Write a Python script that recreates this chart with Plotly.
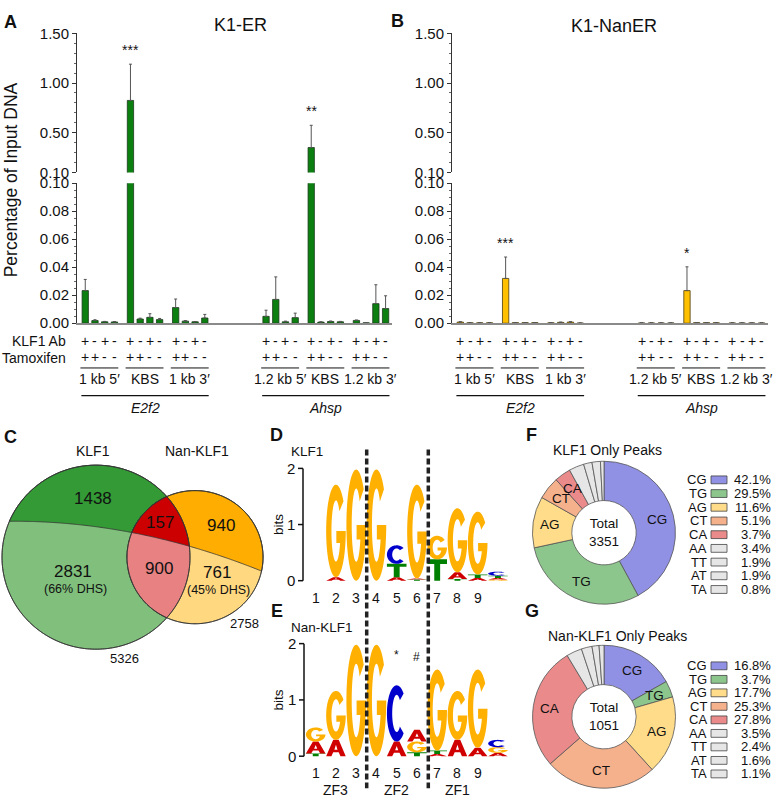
import numpy as np
import plotly.graph_objects as go

W, H = 777, 806
FONT = "Liberation Sans, Arial, Helvetica, sans-serif"

# ---------------- data ----------------
GENES = ["E2f2", "Ahsp"]
REGIONS = [["1 kb 5′", "KBS", "1 kb 3′"], ["1.2 kb 5′", "KBS", "1.2 kb 3′"]]
KLF1_AB = ["+", "-", "+", "-"]
TAMOXIFEN = ["+", "+", "-", "-"]

K1ER_MEAN = [0.0233, 0.0019, 0.0010, 0.0009,
             0.825, 0.0030, 0.0042, 0.0026,
             0.0112, 0.0015, 0.0010, 0.0037,
             0.0049, 0.0170, 0.0010, 0.0040,
             0.351, 0.0008, 0.0012, 0.0010,
             0.0020, 0.0003, 0.0140, 0.0105]
K1ER_ERR = [0.0080, 0.0006, 0.0003, 0.0003,
            0.365, 0.0006, 0.0026, 0.0008,
            0.0061, 0.0004, 0.0002, 0.0026,
            0.0044, 0.0161, 0.0005, 0.0032,
            0.224, 0.0002, 0.0004, 0.0003,
            0.0003, 0.0000, 0.0135, 0.0091]
K1ER_SIG = ["", "", "", "", "***", "", "", "", "", "", "", "",
            "", "", "", "", "**", "", "", "", "", "", "", ""]

K1NANER_MEAN = [0.0008, 0.0003, 0.0003, 0.0003,
                0.0320, 0.0004, 0.0004, 0.0004,
                0.0003, 0.0006, 0.0008, 0.0001,
                0.0002, 0.0002, 0.0002, 0.0002,
                0.0233, 0.0004, 0.0004, 0.0003,
                0.0002, 0.0002, 0.0002, 0.0002]
K1NANER_ERR = [0.0003, 0.0001, 0.0001, 0.0001,
               0.0153, 0.0001, 0.0001, 0.0001,
               0.0001, 0.0002, 0.0003, 0.0001,
               0.0001, 0.0001, 0.0001, 0.0001,
               0.0170, 0.0001, 0.0001, 0.0001,
               0.0001, 0.0001, 0.0001, 0.0001]
K1NANER_SIG = ["", "", "", "", "***", "", "", "", "", "", "", "",
               "", "", "", "", "*", "", "", "", "", "", "", ""]

VENN_NAMES = ["KLF1", "Nan-KLF1"]
VENN_TOTALS = [5326, 2758]
VENN_ONLY_TOP = [1438, 940]
VENN_ONLY_DHS = [2831, 761]
VENN_BOTH = [157, 900]
VENN_DHS_PCT = ["(66% DHS)", "(45% DHS)"]

LOGO_KLF1 = [[], [("A", 0.06), ("G", 1.65)], [("G", 1.98)], [("G", 1.98)],
             [("A", 0.06), ("T", 0.24), ("C", 0.33)],
             [("T", 0.02), ("A", 0.02), ("G", 1.67)],
             [("T", 0.38), ("G", 0.42)],
             [("T", 0.03), ("A", 0.12), ("G", 1.14)],
             [("A", 0.05), ("T", 0.06), ("G", 1.12)],
             [("G", 0.02), ("A", 0.03), ("T", 0.04), ("C", 0.07)]]
LOGO_NAN = [[("T", 0.05), ("A", 0.21), ("G", 0.25)],
            [("A", 0.29), ("G", 0.87)],
            [("G", 1.98)], [("G", 1.98)],
            [("A", 0.26), ("C", 1.00)],
            [("T", 0.07), ("G", 0.19), ("A", 0.21)],
            [("A", 0.04), ("T", 0.06), ("G", 1.44)],
            [("A", 0.29), ("G", 0.87)],
            [("A", 0.15), ("G", 1.39)],
            [("A", 0.06), ("G", 0.10), ("C", 0.13)]]
LOGO_POS_LABELS = ["1", "2", "3", "4", "5", "6", "7", "8", "9"]
ZF_LABELS = ["ZF3", "ZF2", "ZF1"]

PIE_LABELS = ["CG", "TG", "AG", "CT", "CA", "AA", "TT", "AT", "TA"]
PIE_COLORS = ["#9090e4", "#8cc68c", "#ffdc8a", "#f5b08c", "#ea8a8a",
              "#e6e6e6", "#e6e6e6", "#e6e6e6", "#e6e6e6"]
KLF1_ONLY = [42.1, 29.5, 11.6, 5.1, 3.7, 3.4, 1.9, 1.9, 0.8]
NAN_ONLY = [16.8, 3.7, 17.7, 25.3, 27.8, 3.5, 2.4, 1.6, 1.1]
PIE_TOTALS = [3351, 1051]

# ---------------- helpers ----------------
shapes, anns = [], []


def text(x, y, s, size=14, xa="center", ya="middle", angle=0, xref="paper", color="#111"):
    xx = x / W if xref == "paper" else x
    anns.append(dict(x=xx, y=1 - y / H, xref=xref, yref="paper", text=s, showarrow=False,
                     xanchor=xa, yanchor=ya, textangle=angle,
                     font=dict(family=FONT, size=size, color=color)))


def seg(x0, y0, x1, y1, color="#111", width=1.0, dash=None, xref="paper"):
    if xref == "paper":
        x0, x1 = x0 / W, x1 / W
    ln = dict(color=color, width=width)
    if dash:
        ln["dash"] = dash
    shapes.append(dict(type="line", xref=xref, yref="paper", x0=x0, x1=x1,
                       y0=1 - y0 / H, y1=1 - y1 / H, line=ln))


def path_str(polys):
    parts = []
    for pts in polys:
        parts.append("M " + " L ".join(f"{x / W:.5f},{1 - y / H:.5f}" for x, y in pts) + " Z")
    return " ".join(parts)


def poly_shape(polys, fill, lc="#333", lw=0.8):
    shapes.append(dict(type="path", xref="paper", yref="paper", path=path_str(polys),
                       fillcolor=fill, line=dict(color=lc, width=lw)))


# ---------------- panels A / B : bar charts with broken axis ----------------
GSTEP = 4.65
BAR_W = 0.65


def bar_x(i):
    gene, reg, b = i // 12, (i % 12) // 4, i % 4
    return (gene * 4 + reg) * GSTEP + b


XRANGE = [-0.85, 31.56]
LOW_DOM = [1 - 321 / H, 1 - 178 / H]
UP_DOM = [1 - 167 / H, 1 - 24.9 / H]

fig = go.Figure()

panels = [
    ("x", "y", "y3", K1ER_MEAN, K1ER_ERR, K1ER_SIG, "#0b7f0f", "#1c3a1c"),
    ("x2", "y2", "y4", K1NANER_MEAN, K1NANER_ERR, K1NANER_SIG, "#ffc000", "#4a3c10"),
]
for xa, yl, yu, mean, err, sig, col, edge in panels:
    xs = [bar_x(i) for i in range(len(mean))]
    eb = dict(type="data", array=err, arrayminus=[0] * len(err), symmetric=False,
              color="#555", thickness=1, width=1.5)
    fig.add_trace(go.Bar(x=xs, y=mean, xaxis=xa, yaxis=yl, width=BAR_W,
                         marker=dict(color=col, line=dict(color=edge, width=0.8)),
                         error_y=eb, hoverinfo="skip", showlegend=False))
    up_vals = [m if m > 0.1 else None for m in mean]
    up_err = [e if m > 0.1 else 0 for m, e in zip(mean, err)]
    fig.add_trace(go.Bar(x=xs, y=up_vals, xaxis=xa, yaxis=yu, width=BAR_W,
                         marker=dict(color=col, line=dict(color=edge, width=0.8)),
                         error_y=dict(eb, array=up_err), hoverinfo="skip", showlegend=False))
    for i, s in enumerate(sig):
        if s:
            top = mean[i] + err[i]
            anns.append(dict(x=xs[i], y=top, xref=xa, yref=yu if top > 0.1 else yl, text=s,
                             showarrow=False, xanchor="center", yanchor="bottom", yshift=4,
                             font=dict(family=FONT, size=14, color="#111")))
    for i in range(len(mean)):
        b = i % 4
        text(xs[i], 339, KLF1_AB[b], 14, xref=xa)
        text(xs[i], 356, TAMOXIFEN[b], 14, xref=xa)
    for gi in range(2):
        for ri in range(3):
            g = gi * 4 + ri
            seg(g * GSTEP - 0.5, 366.7, g * GSTEP + 3.4, 366.7, width=1, xref=xa)
            text(g * GSTEP + 1.45, 378, REGIONS[gi][ri], 14, xref=xa)
        g0, g2 = gi * 4, gi * 4 + 2
        seg(g0 * GSTEP - 0.4, 395, g2 * GSTEP + 3.4, 395, width=1.3, xref=xa)
        text((g0 * GSTEP - 0.4 + g2 * GSTEP + 3.4) / 2, 408, f"<i>{GENES[gi]}</i>", 14, xref=xa)


def yaxis_cfg(dom, rng, vals, minor, anchor):
    return dict(domain=dom, range=rng, anchor=anchor, tickmode="array", tickvals=vals,
                ticktext=[f"{v:.2f}" for v in vals], ticks="outside", ticklen=4, tickwidth=1,
                tickcolor="#333", showline=True, linecolor="#333", linewidth=1,
                showgrid=False, zeroline=False, fixedrange=True,
                tickfont=dict(family=FONT, size=15, color="#111"),
                minor=dict(tickmode="linear", tick0=0, dtick=minor, ticks="outside",
                           ticklen=2, tickcolor="#666", showgrid=False))


LOW_TICKS = [0, 0.02, 0.04, 0.06, 0.08, 0.10]
UP_TICKS = [0.10, 0.50, 1.00, 1.50]
xcfg = dict(range=XRANGE, showline=True, linecolor="#8a8a8a", linewidth=2, showticklabels=False,
            ticks="", showgrid=False, zeroline=False, fixedrange=True)
fig.update_layout(
    xaxis=dict(xcfg, domain=[77 / W, 392 / W], anchor="y"),
    xaxis2=dict(xcfg, domain=[452 / W, 768 / W], anchor="y2"),
    yaxis=yaxis_cfg(LOW_DOM, [0, 0.1], LOW_TICKS, 0.005, "x"),
    yaxis2=yaxis_cfg(LOW_DOM, [0, 0.1], LOW_TICKS, 0.005, "x2"),
    yaxis3=yaxis_cfg(UP_DOM, [0.1, 1.5], UP_TICKS, 0.1, "x"),
    yaxis4=yaxis_cfg(UP_DOM, [0.1, 1.5], UP_TICKS, 0.1, "x2"),
)

text(10, 13, "<b>A</b>", 18)
text(240, 16, "K1-ER", 18)
text(397, 12, "<b>B</b>", 18)
text(614, 17, "K1-NanER", 18)
text(11, 175, "Percentage of Input DNA", 17.5, angle=-90)
text(68, 339, "KLF1 Ab", 14, xa="right")
text(68, 356.5, "Tamoxifen", 14, xa="right")

# ---------------- panel C : Venn ----------------


def circle_pts(cx, cy, r, n=360):
    t = np.linspace(0, 2 * np.pi, n, endpoint=False)
    return np.column_stack([cx + r * np.cos(t), cy + r * np.sin(t)])


def poly_area(p):
    x, y = p[:, 0], p[:, 1]
    return 0.5 * np.sum(x * np.roll(y, -1) - np.roll(x, -1) * y)


def clip_convex(subject, clipper):
    sgn = 1.0 if poly_area(clipper) > 0 else -1.0
    out = [tuple(p) for p in subject]
    n = len(clipper)
    for i in range(n):
        ax, ay = clipper[i]
        bx, by = clipper[(i + 1) % n]
        ex, ey = bx - ax, by - ay
        inp, out = out, []
        if not inp:
            break
        s = inp[-1]
        ds = sgn * (ex * (s[1] - ay) - ey * (s[0] - ax))
        for e in inp:
            de = sgn * (ex * (e[1] - ay) - ey * (e[0] - ax))
            if de >= 0:
                if ds < 0:
                    t = ds / (ds - de)
                    out.append((s[0] + t * (e[0] - s[0]), s[1] + t * (e[1] - s[1])))
                out.append(e)
            elif ds >= 0:
                t = ds / (ds - de)
                out.append((s[0] + t * (e[0] - s[0]), s[1] + t * (e[1] - s[1])))
            s, ds = e, de
    return np.array(out)


green = circle_pts(96, 560, 94)
yellow = circle_pts(195, 560, 68)
div = np.polyfit([10, 132, 190, 262], [523, 536.5, 547, 575], 2)
cx_ = np.linspace(-20, 300, 300)
above = np.vstack([np.column_stack([cx_, np.polyval(div, cx_)]), [[300, 400], [-20, 400]]])
lens = clip_convex(green, yellow)

poly_shape([green], "#80c07c")
poly_shape([clip_convex(above, green)], "#339a36")
poly_shape([yellow], "#ffd880")
poly_shape([clip_convex(above, yellow)], "#ffad00")
poly_shape([lens], "#e88182")
poly_shape([clip_convex(above, lens)], "#cc0000")
poly_shape([green], "rgba(0,0,0,0)")
poly_shape([yellow], "rgba(0,0,0,0)")

text(10.7, 437, "<b>C</b>", 18)
text(93, 452, VENN_NAMES[0], 14)
text(197, 452, VENN_NAMES[1], 14)
text(93, 500, str(VENN_ONLY_TOP[0]), 17)
text(221, 528, str(VENN_ONLY_TOP[1]), 17)
text(160, 525, str(VENN_BOTH[0]), 17)
text(158.7, 572, str(VENN_BOTH[1]), 17)
text(73.3, 575, str(VENN_ONLY_DHS[0]), 17)
text(75, 593, VENN_DHS_PCT[0], 12.5)
text(217.3, 576, str(VENN_ONLY_DHS[1]), 17)
text(218.3, 594, VENN_DHS_PCT[1], 12.5)
text(124, 663, str(VENN_TOTALS[0]), 13)
text(244, 628, str(VENN_TOTALS[1]), 13)

# ---------------- panels D / E : sequence logos ----------------
RXI, RYI = 0.23, 0.33


def ell_arc(rx, ry, a0, a1, n=48):
    t = np.radians(np.linspace(a0, a1, n))
    return np.column_stack([0.5 + rx * np.cos(t), 0.5 + ry * np.sin(t)])


def glyph(ch):
    if ch == "C":
        return [np.vstack([ell_arc(0.5, 0.5, 45, 315), ell_arc(RXI, RYI, 315, 45)])]
    if ch == "G":
        yt, yb, xl = 0.50, 0.37, 0.52
        xin = 0.5 + RXI * np.sqrt(1 - ((yb - 0.5) / RYI) ** 2)
        phi = np.degrees(np.arctan2((yb - 0.5) / RYI, (xin - 0.5) / RXI))
        bar = np.array([[1.0, yt], [xl, yt], [xl, yb], [xin, yb]])
        return [np.vstack([ell_arc(0.5, 0.5, 40, 360), bar, ell_arc(RXI, RYI, phi, 40 - 360)])]
    if ch == "T":
        return [np.array([[0, 1], [1, 1], [1, 0.78], [0.65, 0.78], [0.65, 0], [0.35, 0],
                          [0.35, 0.78], [0, 0.78]], dtype=float)]
    return [np.array([[0, 0], [0.27, 0], [0.36, 0.24], [0.64, 0.24], [0.73, 0], [1, 0],
                      [0.64, 1], [0.36, 1]], dtype=float),
            np.array([[0.42, 0.40], [0.58, 0.40], [0.5, 0.70]], dtype=float)]


LETTER_COLORS = {"G": "#ffb000", "A": "#d00000", "C": "#0000cc", "T": "#008000"}
COL_X0, COL_STEP, LET_W = 315.7, 20.25, 19.6


def draw_logo(logo, axis_x, base_y, ppb):
    for k, stack in enumerate(logo):
        cxk = COL_X0 + k * COL_STEP
        bottom = 0.0
        for ch, h in stack:
            polys = []
            for p in glyph(ch):
                X = cxk - LET_W / 2 + p[:, 0] * LET_W
                Y = base_y - (bottom + p[:, 1] * h) * ppb
                polys.append(np.column_stack([X, Y]))
            shapes.append(dict(type="path", xref="paper", yref="paper", path=path_str(polys),
                               fillcolor=LETTER_COLORS[ch], line=dict(width=0)))
            bottom += h
    seg(axis_x, base_y - 2 * ppb, axis_x, base_y, width=1.5)
    for v in range(3):
        yv = base_y - v * ppb
        seg(axis_x - 5, yv, axis_x, yv, width=1.5)
        text(axis_x - 6, yv, str(v), 15, xa="right")
    text(278.5, base_y - ppb, "bits", 13.5, angle=-90)


draw_logo(LOGO_KLF1, 303, 584, 57.35)
draw_logo(LOGO_NAN, 304, 763.3, 57.5)
for k, lab in enumerate(LOGO_POS_LABELS):
    text(COL_X0 + k * COL_STEP, 601.7, lab, 14)
    text(COL_X0 + k * COL_STEP, 780, lab, 14)
for j, lab in enumerate(ZF_LABELS):
    text(COL_X0 + (3 * j + 1) * COL_STEP, 798, lab, 14)
text(COL_X0 + 4 * COL_STEP, 660, "*", 12)
text(COL_X0 + 5 * COL_STEP, 661.7, "#", 12)
for xd in (366.7, 428.3):
    seg(xd, 450, xd, 796, color="#222", width=3.5, dash="6px,3px")
text(276.7, 435, "<b>D</b>", 18)
text(306.5, 451.7, "KLF1", 13.5)
text(276.7, 615, "<b>E</b>", 18)
text(321.7, 632.3, "Nan-KLF1", 13.5)

# ---------------- panels F / G : donut charts ----------------
PIE_R = 73
pies = [(KLF1_ONLY, 535, 451, "KLF1 Only Peaks", "<b>F</b>", 435, PIE_TOTALS[0], 481, 14.0),
        (NAN_ONLY, 723, 640, "Nan-KLF1 Only Peaks", "<b>G</b>", 615, PIE_TOTALS[1], 671, 13.8)]
PCX = 604
for vals, cy, ty, title, lab, ly, tot, leg_y0, leg_dy in pies:
    fig.add_trace(go.Pie(values=vals, labels=PIE_LABELS, sort=False, direction="clockwise",
                         rotation=0, hole=0.45, textinfo="none", hoverinfo="skip",
                         showlegend=False,
                         marker=dict(colors=PIE_COLORS, line=dict(color="#555", width=0.8)),
                         domain=dict(x=[(PCX - PIE_R) / W, (PCX + PIE_R) / W],
                                     y=[1 - (cy + PIE_R) / H, 1 - (cy - PIE_R) / H])))
    total = sum(vals)
    cum = 0.0
    for i, v in enumerate(vals):
        if i < 5:
            th = np.radians(360 * (cum + v / 2) / total)
            r = 0.755 * PIE_R
            text(PCX + r * np.sin(th), cy - r * np.cos(th), PIE_LABELS[i], 13.5)
        cum += v
    text(PCX, cy, f"Total<br>{tot}", 13.5)
    text(607 if cy < 600 else 617, ty, title, 14)
    text(531.7, ly, lab, 18)
    for i, v in enumerate(vals):
        yy = leg_y0 + i * leg_dy
        text(708.5, yy, PIE_LABELS[i], 13, xa="right")
        shapes.append(dict(type="rect", xref="paper", yref="paper",
                           x0=711 / W, x1=727 / W, y0=1 - (yy + 4) / H, y1=1 - (yy - 4) / H,
                           fillcolor=PIE_COLORS[i], line=dict(color="#444", width=0.8)))
        text(773, yy, f"{v:.1f}%", 13, xa="right")

fig.update_layout(width=W, height=H, margin=dict(l=0, r=0, t=0, b=0), autosize=False,
                  paper_bgcolor="white", plot_bgcolor="rgba(0,0,0,0)", barmode="overlay",
                  font=dict(family=FONT, color="#111"), shapes=shapes, annotations=anns)
fig.write_html("out.html", config={"displayModeBar": False},
               post_script="document.body.style.margin='0';document.body.style.overflow='hidden';")
